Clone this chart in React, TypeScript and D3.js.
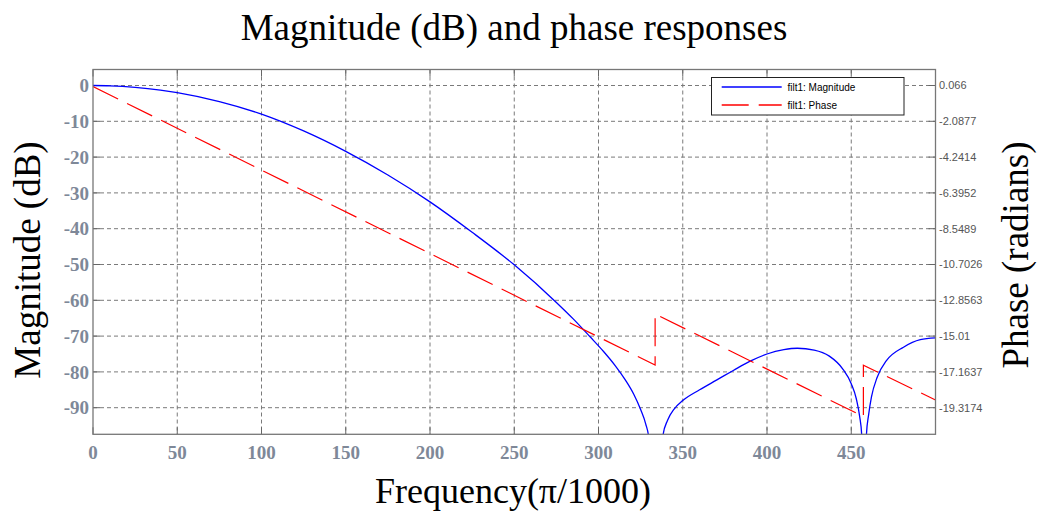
import React from "react";
import * as d3 from "d3";

// Frequency axis (units of π/1000)
const xTicks = [0, 50, 100, 150, 200, 250, 300, 350, 400, 450];
// Left axis ticks (dB)
const yTicks = [0, -10, -20, -30, -40, -50, -60, -70, -80, -90];
// Right axis ticks (radians)
const phaseTicks = [0.066, -2.0877, -4.2414, -6.3952, -8.5489, -10.7026, -12.8563, -15.01, -17.1637, -19.3174];
const phaseTickLabels = ["0.066", "-2.0877", "-4.2414", "-6.3952", "-8.5489", "-10.7026", "-12.8563", "-15.01", "-17.1637", "-19.3174"];

// Magnitude response
const magFreq = [0, 10, 25, 40, 50, 75, 100, 125, 150, 175, 200, 225, 250, 275, 285, 295, 303, 310, 316, 321, 325, 328, 330, 333.8,
  338.3, 341, 345, 350, 360, 370, 380, 390, 400, 410, 418, 428, 437, 445, 450, 453, 455, 456.2, 457.6,
  459, 460.3, 462, 465.4, 471, 481, 491, 500];
const magDb = [0, -0.08, -0.5, -1.28, -2.0, -4.5, -8.0, -12.7, -18.4, -25.0, -32.5, -41.0, -50.1, -60.6, -65.2, -70.2, -74.3, -78.3, -82.3, -86.3, -90.5, -94.5, -99, -150,
  -97.6, -93.5, -90.3, -88.0, -85.0, -82.3, -79.6, -77.0, -75.0, -73.8, -73.4, -73.9, -75.6, -79.2, -83.3, -87.5, -92.5, -97.6, -150,
  -97.6, -92.0, -87.0, -81.5, -76.8, -73.1, -71.0, -70.5];

// Phase response
const phaseFreq = [0, 333.6, 333.6, 457.2, 457.2, 500];
const phaseRad = [0, -16.75, -13.68, -19.85, -16.76, -18.85];

const legendLabels = ["filt1: Magnitude", "filt1: Phase"];

export default function App() {
  const W = 1038, H = 512;
  const left = 93, right = 935.5, top = 69.5, bottom = 434.3;
  const x = d3.scaleLinear().domain([0, 500]).range([left, right]);
  const dbMin = -97.43, dbMax = 4.47;
  const y = d3.scaleLinear().domain([dbMin, dbMax]).range([bottom, top]);
  const k = (0.066 - -19.3174) / 90;
  const yR = d3.scaleLinear().domain([0.066 + dbMin * k, 0.066 + dbMax * k]).range([bottom, top]);

  const magLine = d3.line<number>()
    .x((_, i) => x(magFreq[i]))
    .y((d) => y(d))
    .curve(d3.curveMonotoneX);
  const phaseLine = d3.line<number>()
    .x((_, i) => x(phaseFreq[i]))
    .y((d) => yR(d));

  const gridColor = "#7a7a7a";
  const tickLabelColor = "#7e8898";
  const serif = "'Liberation Serif', 'Times New Roman', serif";
  const sans = "'Liberation Sans', Arial, sans-serif";

  return (
    <svg width={W} height={H} style={{ position: "absolute", left: 0, top: 0, background: "#fff" }}>
      <defs>
        <clipPath id="plotClip">
          <rect x={left} y={top} width={right - left} height={bottom - top} />
        </clipPath>
      </defs>
      <rect x={0} y={0} width={W} height={H} fill="#fff" />
      {/* grid */}
      <g stroke={gridColor} strokeWidth={1} strokeDasharray="4,3">
        {xTicks.filter((t) => t !== 0).map((t) => (
          <line key={"gx" + t} x1={x(t)} x2={x(t)} y1={top} y2={bottom} />
        ))}
        {yTicks.map((t) => (
          <line key={"gy" + t} x1={left} x2={right} y1={y(t)} y2={y(t)} />
        ))}
      </g>
      {/* ticks */}
      <g stroke="#666" strokeWidth={1}>
        {xTicks.map((t) => (
          <g key={"tx" + t}>
            <line x1={x(t)} x2={x(t)} y1={bottom} y2={bottom - 7} />
            <line x1={x(t)} x2={x(t)} y1={top} y2={top + 7} />
          </g>
        ))}
        {yTicks.map((t) => (
          <line key={"ty" + t} x1={left} x2={left + 7} y1={y(t)} y2={y(t)} />
        ))}
        {phaseTicks.map((t) => (
          <line key={"tr" + t} x1={right} x2={right - 7} y1={yR(t)} y2={yR(t)} />
        ))}
      </g>
      {/* curves */}
      <g clipPath="url(#plotClip)">
        <path d={magLine(magDb) || ""} fill="none" stroke="#0000ff" strokeWidth={1.3} />
        <path d={phaseLine(phaseRad) || ""} fill="none" stroke="#ff0000" strokeWidth={1.2} strokeDasharray="28,10" />
      </g>
      {/* box */}
      <rect x={left} y={top} width={right - left} height={bottom - top} fill="none" stroke="#777" strokeWidth={1.3} />
      {/* left tick labels */}
      {yTicks.map((t) => (
        <text key={"ly" + t} x={89} y={y(t)} dy="0.35em" textAnchor="end" fontFamily={serif} fontWeight="bold" fontSize={19} fill={tickLabelColor}>
          {String(t)}
        </text>
      ))}
      {/* bottom tick labels */}
      {xTicks.map((t) => (
        <text key={"lx" + t} x={x(t)} y={459} textAnchor="middle" fontFamily={serif} fontWeight="bold" fontSize={19} fill={tickLabelColor}>
          {String(t)}
        </text>
      ))}
      {/* right tick labels */}
      {phaseTicks.map((t, i) => (
        <text key={"lr" + t} x={939} y={yR(t)} dy="0.35em" textAnchor="start" fontFamily={sans} fontSize={11} fill="#555">
          {phaseTickLabels[i]}
        </text>
      ))}
      {/* legend */}
      <g>
        <rect x={711.5} y={77.5} width={192.5} height={37.5} fill="#fff" stroke="#222" strokeWidth={1} />
        <line x1={721.7} x2={781.7} y1={87} y2={87} stroke="#0000ff" strokeWidth={1.5} />
        <line x1={721.7} x2={781.7} y1={105} y2={105} stroke="#ff0000" strokeWidth={1.3} strokeDasharray="27,10" />
        <text x={787.5} y={91} fontFamily={sans} fontSize={10} fill="#000">{legendLabels[0]}</text>
        <text x={787.5} y={108.5} fontFamily={sans} fontSize={10} fill="#000">{legendLabels[1]}</text>
      </g>
      {/* titles */}
      <text x={514} y={40} textAnchor="middle" fontFamily={serif} fontSize={37} fill="#000">
        Magnitude (dB) and phase responses
      </text>
      <text x={513} y={503} textAnchor="middle" fontFamily={serif} fontSize={36} fill="#000">
        Frequency(π/1000)
      </text>
      <text transform="translate(40,260) rotate(-90)" textAnchor="middle" fontFamily={serif} fontSize={37} fill="#000">
        Magnitude (dB)
      </text>
      <text transform="translate(1028,255) rotate(-90)" textAnchor="middle" fontFamily={serif} fontSize={37} fill="#000">
        Phase (radians)
      </text>
    </svg>
  );
}
